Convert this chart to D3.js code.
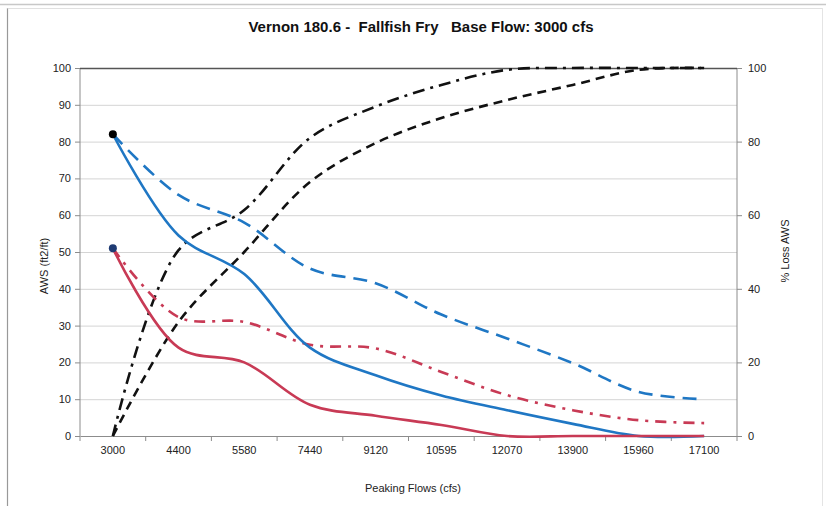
<!DOCTYPE html>
<html>
<head>
<meta charset="utf-8">
<script src="https://cdn.jsdelivr.net/npm/d3@7"></script>
<style>
html,body{margin:0;padding:0;background:#fff;}
text{font-family:"Liberation Sans",Arial,sans-serif;}
</style>
</head>
<body>
<svg id="chart" width="826" height="506"></svg>
<script>
const categories = ["3000","4400","5580","7440","9120","10595","12070","13900","15960","17100"];
const awsBlueSolid  = [82, 54.5, 44, 24, 16.5, 11, 7, 3.3, 0, 0];
const awsBlueDashed = [82, 65.5, 58, 45.5, 41.5, 33, 26.5, 19.8, 12, 10];
const awsRedSolid   = [51, 24, 20, 8.5, 5.5, 3, 0, 0, 0, 0];
const awsRedDashDot = [51, 32.3, 31, 24.8, 23.8, 17.4, 11.1, 7, 4.3, 3.5];
const lossDashed    = [0, 31, 50, 69, 79.6, 86.4, 91.3, 95.4, 99.5, 100];
const lossDashDot   = [0, 50.5, 61.4, 81, 89.5, 95.4, 99.5, 100, 100, 100];
const leftTicks  = [0,10,20,30,40,50,60,70,80,90,100];
const rightTicks = [0,20,40,60,80,100];

const svg = d3.select("#chart");
const L = 80, R = 737, T = 68, B = 436;

// outer frame
svg.append("line").attr("x1",0).attr("x2",826).attr("y1",4.5).attr("y2",4.5).attr("stroke","#c8c8c8").attr("stroke-width",1.5);
svg.append("line").attr("x1",7.5).attr("x2",7.5).attr("y1",8).attr("y2",506).attr("stroke","#999").attr("stroke-width",1.2);
svg.append("line").attr("x1",7.5).attr("x2",822).attr("y1",8.5).attr("y2",8.5).attr("stroke","#e0e0e0");
svg.append("line").attr("x1",822.5).attr("x2",822.5).attr("y1",8).attr("y2",506).attr("stroke","#e4e4e4");

const x = d3.scaleBand().domain(categories).range([L, R]);
const yL = d3.scaleLinear().domain([0,100]).range([B, T]);
const yR = d3.scaleLinear().domain([0,100]).range([B, T]);
const cx = d => x(d) + x.bandwidth()/2;

// gridlines
svg.append("g").selectAll("line").data(leftTicks.filter(v=>v>0 && v<100)).join("line")
  .attr("x1",L).attr("x2",R).attr("y1",d=>yL(d)+0.5).attr("y2",d=>yL(d)+0.5)
  .attr("stroke","#d4d4d4").attr("stroke-width",1);

// axes
const axL = svg.append("g").attr("transform",`translate(${L},0)`)
  .call(d3.axisLeft(yL).tickValues(leftTicks).tickSize(5).tickPadding(4));
const axR = svg.append("g").attr("transform",`translate(${R},0)`)
  .call(d3.axisRight(yR).tickValues(rightTicks).tickSize(5).tickPadding(6));
const axB = svg.append("g").attr("transform",`translate(0,${B})`)
  .call(d3.axisBottom(x).tickSize(0).tickPadding(10));
[axL,axR,axB].forEach(g=>{
  g.selectAll("path").attr("stroke","#8c8c8c");
  g.selectAll("line").attr("stroke","#8c8c8c");
  g.selectAll("text").attr("font-size","11px").attr("fill","#222")
   .attr("font-family","'Liberation Sans',Arial,sans-serif");
});
axL.select("path.domain").attr("d",`M-0,${B}V${T}`);
axR.select("path.domain").attr("d",`M0,${B}V${T}`);
// category separator ticks
svg.append("g").selectAll("line").data(d3.range(categories.length+1)).join("line")
  .attr("x1",i=>L + i*x.step()).attr("x2",i=>L + i*x.step())
  .attr("y1",B).attr("y2",B+5).attr("stroke","#8c8c8c");
// top border
svg.append("line").attr("x1",L).attr("x2",R).attr("y1",T+0.5).attr("y2",T+0.5).attr("stroke","#555").attr("stroke-width",1.3);

// series
const lineL = d3.line().x((d,i)=>cx(categories[i])).y(d=>yL(d)).curve(d3.curveCatmullRom.alpha(0.5));
const lineR = d3.line().x((d,i)=>cx(categories[i])).y(d=>yR(d)).curve(d3.curveCatmullRom.alpha(0.5));

const series = [
  {data: lossDashed,    line: lineR, color:"#111", dash:"9,6"},
  {data: lossDashDot,   line: lineR, color:"#111", dash:"12,6,3,6"},
  {data: awsBlueDashed, line: lineL, color:"#1f77c4", dash:"14,8"},
  {data: awsRedDashDot, line: lineL, color:"#c83a55", dash:"11,7,3,7"},
  {data: awsBlueSolid,  line: lineL, color:"#1f77c4", dash:null},
  {data: awsRedSolid,   line: lineL, color:"#c83a55", dash:null},
];
series.forEach(s=>{
  svg.append("path").attr("d", s.line(s.data)).attr("fill","none")
    .attr("stroke", s.color).attr("stroke-width", 2.6)
    .attr("stroke-dasharray", s.dash);
});

// markers at base flow
svg.append("circle").attr("cx",cx(categories[0])).attr("cy",yL(awsBlueSolid[0])).attr("r",4).attr("fill","#000");
svg.append("circle").attr("cx",cx(categories[0])).attr("cy",yL(awsRedSolid[0])).attr("r",4).attr("fill","#1f3b73");

// titles
svg.append("text").attr("x",421).attr("y",32).attr("text-anchor","middle")
  .attr("font-size","15px").attr("font-weight","bold").attr("fill","#111")
  .style("white-space","pre")
  .text("Vernon 180.6 -  Fallfish Fry   Base Flow: 3000 cfs");
svg.append("text").attr("x",413).attr("y",492).attr("text-anchor","middle")
  .attr("font-size","11px").attr("fill","#222").text("Peaking Flows (cfs)");
svg.append("text").attr("transform","translate(48,266) rotate(-90)").attr("text-anchor","middle")
  .attr("font-size","11px").attr("fill","#222").text("AWS (ft2/ft)");
svg.append("text").attr("transform","translate(789,251) rotate(-90)").attr("text-anchor","middle")
  .attr("font-size","11px").attr("fill","#222").text("% Loss AWS");
</script>
</body>
</html>
